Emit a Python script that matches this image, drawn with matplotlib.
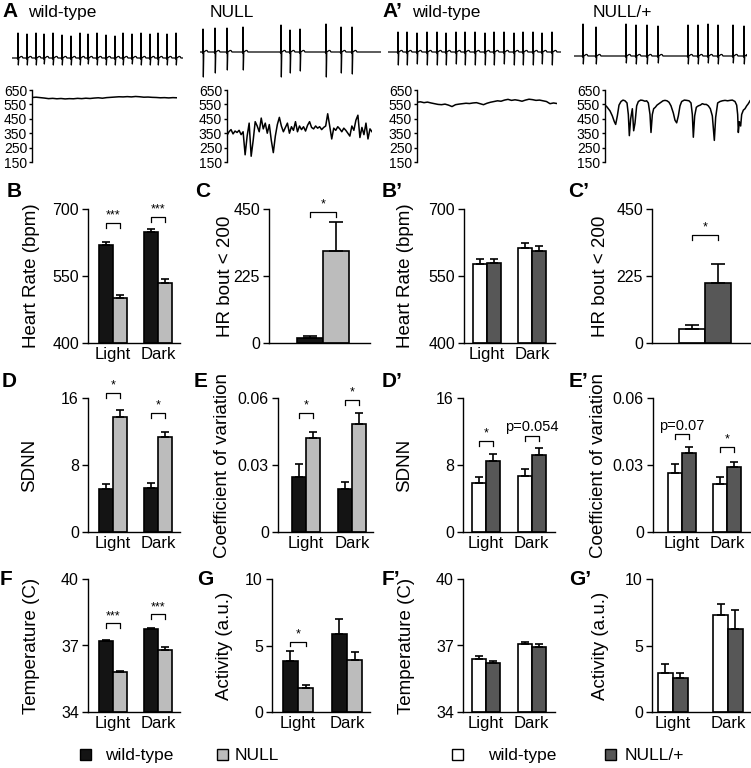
"""Cardiac / activity phenotype figure: ECG strips, HR traces and Light/Dark bar summaries."""
import numpy as np
import matplotlib
matplotlib.use("Agg")
import matplotlib.pyplot as plt
from matplotlib.patches import Rectangle

plt.rcParams["font.family"] = ["Liberation Sans", "DejaVu Sans"]

W, H = 751, 768

WT_COLOR = "#141414"
NULL_COLOR = "#bcbcbc"
HET_COLOR = "#575757"
WT2_COLOR = "white"

PHASES = ["Light", "Dark"]

# ── row A: ECG strips (beat time, R height, S depth) ─────────────────────────
ecg_wt_t = [6, 15, 24, 32, 41, 50, 59, 68, 76, 85, 94, 103, 111, 120, 129, 138, 146, 155, 164]
ecg_wt_up = [25, 24, 25, 24, 25, 23, 22, 25, 24, 25, 23, 22, 25, 24, 25, 24, 25, 24, 25]
ecg_wt_dn = [7, 7, 7, 6, 7, 7, 7, 7, 6, 7, 7, 7, 7, 6, 7, 7, 7, 7, 7]

ecg_null_t = [3, 15, 27, 43, 81, 90, 100, 126, 141, 152]
ecg_null_up = [23, 24, 24, 25, 27, 22, 23, 28, 25, 25]
ecg_null_dn = [25, 21, 18, 18, 25, 21, 19, 25, 21, 22]

ecg_wt2_t = [10, 19, 29, 39, 49, 58, 68, 77, 87, 97, 106, 116, 126, 135, 145, 154, 164]
ecg_wt2_up = [20, 20, 19, 20, 20, 19, 20, 20, 20, 19, 20, 20, 19, 20, 20, 19, 20]
ecg_wt2_dn = [13, 13, 12, 13, 13, 13, 12, 13, 13, 13, 13, 12, 13, 13, 13, 12, 13]

ecg_het_t = [9, 22, 52, 62, 73, 84, 114, 124, 134, 144, 159, 170]
ecg_het_up = [32, 29, 32, 31, 31, 30, 31, 31, 32, 31, 31, 30]
ecg_het_dn = [8, 8, 7, 8, 8, 7, 8, 8, 7, 8, 7, 8]

# ── row A: heart-rate traces (bpm) ───────────────────────────────────────────
hr_wt = [598, 600, 597, 594, 590, 592, 589, 591, 588, 590, 589, 592, 590, 593, 591,
         594, 596, 593, 597, 599, 601, 603, 602, 604, 602, 605, 603, 600, 601, 599,
         598, 596, 597, 595, 597, 596]
hr_null = [335, 360, 375, 345, 365, 355, 370, 340, 360, 200, 330, 420, 190, 300, 430,
           400, 360, 455, 380, 420, 350, 410, 300, 215, 330, 410, 460, 400, 360, 390,
           420, 350, 395, 370, 430, 360, 400, 375, 395, 365, 405, 430, 390, 380, 400,
           385, 395, 375, 390, 400, 485, 400, 310, 385, 370, 395, 380, 360, 385, 370,
           350, 330, 400, 370, 440, 475, 320, 390, 340, 420, 310, 380, 360]
hr_wt2 = [565, 568, 562, 566, 560, 555, 550, 548, 552, 545, 535, 548, 552, 555, 558,
          556, 560, 562, 555, 548, 558, 565, 570, 575, 572, 580, 585, 578, 582, 578,
          572, 580, 586, 583, 578, 580, 575, 570, 555, 560, 556]
hr_het_t = [0, 5, 10, 15, 22, 28, 32, 37, 42, 48, 54, 60, 66, 70, 73, 77, 82, 86, 90, 95,
            100, 107, 113, 120, 125, 130, 135, 138, 142, 146, 151, 156, 162, 168, 174,
            180, 186, 192, 198, 205, 210, 215, 220, 225, 230, 238, 245, 252, 258, 262,
            265, 269, 274, 280, 286, 292, 298, 304, 310, 316, 322, 328, 332, 338, 345,
            352, 360, 368, 375, 382, 390, 395, 398, 400, 403, 407, 410, 415, 420, 425,
            430, 435]
hr_het = [545, 535, 520, 505, 470, 430, 411, 470, 545, 570, 580, 575, 560, 480, 333,
          450, 520, 367, 420, 540, 570, 580, 578, 572, 575, 560, 480, 355, 480, 520,
          530, 545, 555, 565, 575, 578, 575, 565, 540, 490, 440, 422, 470, 540, 570,
          580, 578, 575, 560, 480, 322, 470, 530, 540, 545, 555, 550, 550, 540, 520,
          470, 300, 460, 560, 570, 575, 578, 575, 578, 580, 570, 545, 480, 355, 430,
          400, 480, 510, 520, 540, 555, 575]

# ── bar summaries: (Light, Dark) means and SEM ───────────────────────────────
hr_bpm_wt, hr_bpm_wt_err = [620, 648], [5, 8]
hr_bpm_null, hr_bpm_null_err = [500, 535], [7, 8]
bout_wt, bout_wt_err = [18], [4]
bout_null, bout_null_err = [310], [95]
sdnn_wt, sdnn_wt_err = [5.1, 5.3], [0.6, 0.5]
sdnn_null, sdnn_null_err = [13.7, 11.4], [0.9, 0.6]
cv_wt, cv_wt_err = [0.0246, 0.0193], [0.0058, 0.0031]
cv_null, cv_null_err = [0.0421, 0.0484], [0.0027, 0.0049]
temp_wt, temp_wt_err = [37.2, 37.75], [0.05, 0.03]
temp_null, temp_null_err = [35.8, 36.8], [0.05, 0.12]
act_wt, act_wt_err = [3.83, 5.86], [0.77, 1.14]
act_null, act_null_err = [1.8, 3.9], [0.2, 0.6]

hr_bpm_wt2, hr_bpm_wt2_err = [577, 613], [11, 11]
hr_bpm_het, hr_bpm_het_err = [578, 606], [10, 11]
bout_wt2, bout_wt2_err = [47], [13]
bout_het, bout_het_err = [201], [64]
sdnn_wt2, sdnn_wt2_err = [5.9, 6.7], [0.7, 0.8]
sdnn_het, sdnn_het_err = [8.5, 9.2], [0.8, 0.8]
cv_wt2, cv_wt2_err = [0.0264, 0.0215], [0.0040, 0.0031]
cv_het, cv_het_err = [0.0354, 0.0291], [0.0026, 0.0022]
temp_wt2, temp_wt2_err = [36.4, 37.07], [0.12, 0.10]
temp_het, temp_het_err = [36.2, 36.93], [0.10, 0.12]
act_wt2, act_wt2_err = [2.93, 7.3], [0.67, 0.8]
act_het, act_het_err = [2.55, 6.24], [0.35, 1.46]

# significance brackets: (category index, bracket height, label)
sig_hr = [(0, 669, "***"), (1, 682, "***")]
sig_bout = [(0, 440, "*")]
sig_sdnn = [(0, 16.6, "*"), (1, 14.2, "*")]
sig_cv = [(0, 0.0533, "*"), (1, 0.0591, "*")]
sig_temp = [(0, 38.0, "***"), (1, 38.4, "***")]
sig_act = [(0, 5.3, "*")]
sig_bout2 = [(0, 363, "*")]
sig_sdnn2 = [(0, 10.9, "*"), (1, 11.5, "p=0.054")]
sig_cv2 = [(0, 0.0439, "p=0.07"), (1, 0.038, "*")]


fig = plt.figure(figsize=(W / 100, H / 100), dpi=100)


def px_rect(l, t, r, b):
    return [l / W, 1 - b / H, (r - l) / W, (b - t) / H]


def ecg_strip(l, r, base_y, t, up, dn, length):
    ax = fig.add_axes(px_rect(l, 20, r, 82))
    xs, ys = [0], [0]
    for ti, u, d in zip(t, up, dn):
        xs += [ti - 0.8, ti - 0.4, ti, ti + 0.35, ti + 0.8, ti + 3.0, ti + 4.0, ti + 5.0]
        ys += [0, -1, u, -d, 0, 1.5, 1.5, 0]
    xs.append(length); ys.append(0)
    ax.plot(xs, ys, color="black", lw=0.9)
    ax.set_xlim(0, length)
    ax.set_ylim(-(82 - base_y), base_y - 20)
    ax.axis("off")


def hr_trace(l, r, x, y):
    ax = fig.add_axes(px_rect(l, 90, r, 162))
    ax.plot(x, y, color="black", lw=1.1)
    ax.set_xlim(min(x), max(x))
    ax.set_ylim(150, 650)
    ax.set_yticks([150, 250, 350, 450, 550, 650])
    for s in ("top", "right", "bottom"):
        ax.spines[s].set_visible(False)
    ax.spines["left"].set_linewidth(1.0)
    ax.tick_params(axis="y", length=2.5, width=1.0, pad=1, labelsize=10)
    ax.set_xticks([])
    return ax


def bar_panel(rect, xlim, ylim, yticks, ytlabels, ylabel, lab_dx,
              groups, colors, width, capsize, brackets, cats=PHASES):
    ax = fig.add_axes(px_rect(*rect))
    x = np.arange(len(groups[0][0]))
    for k, ((vals, errs), col) in enumerate(zip(groups, colors)):
        xx = x + (k - 0.5) * width
        vals = np.array(vals, dtype=float)
        ax.bar(xx, vals - ylim[0], width, bottom=ylim[0], color=col,
               edgecolor="black", linewidth=1.2, zorder=2)
        ax.errorbar(xx, vals, yerr=[np.zeros(len(errs)), errs], fmt="none",
                    ecolor="black", elinewidth=1.2, capsize=capsize, capthick=1.2,
                    zorder=3)
    rng = ylim[1] - ylim[0]
    for ci, yb, lab in brackets:
        x1, x2 = ci - width / 2, ci + width / 2
        ax.plot([x1, x1, x2, x2], [yb - 0.037 * rng, yb, yb, yb - 0.037 * rng],
                color="black", lw=0.9, clip_on=False)
        fs = 9 if lab.startswith("*") else 10.5
        ax.text((x1 + x2) / 2, yb + 0.01 * rng, lab, ha="center", va="bottom",
                fontsize=fs)
    ax.set_xlim(*xlim)
    ax.set_ylim(*ylim)
    ax.set_yticks(yticks)
    ax.set_yticklabels(ytlabels)
    if cats:
        ax.set_xticks(x)
        ax.set_xticklabels(cats)
    else:
        ax.set_xticks([])
    for s in ("top", "right"):
        ax.spines[s].set_visible(False)
    for s in ("left", "bottom"):
        ax.spines[s].set_linewidth(1.0)
    ax.tick_params(axis="y", length=4.5, width=1.0, pad=2, labelsize=11.5)
    ax.tick_params(axis="x", length=0, pad=3, labelsize=12)
    ax.set_ylabel(ylabel, fontsize=13.5)
    ax.yaxis.set_label_coords(lab_dx / (rect[2] - rect[0]), 0.5)
    return ax


# ── row A ────────────────────────────────────────────────────────────────────
ecg_strip(12, 183, 58, ecg_wt_t, ecg_wt_up, ecg_wt_dn, 171)
ecg_strip(200, 381, 52, ecg_null_t, ecg_null_up, ecg_null_dn, 181)
ecg_strip(388, 561, 52, ecg_wt2_t, ecg_wt2_up, ecg_wt2_dn, 173)
ecg_strip(574, 747, 56, ecg_het_t, ecg_het_up, ecg_het_dn, 173)

hr_trace(32, 177, np.arange(len(hr_wt)), hr_wt)
hr_trace(227, 372, np.arange(len(hr_null)), hr_null)
hr_trace(417, 557, np.arange(len(hr_wt2)), hr_wt2)
hr_trace(605, 750, hr_het_t, hr_het)

# ── bar panels ───────────────────────────────────────────────────────────────
pair = (WT_COLOR, NULL_COLOR)
pair2 = (WT2_COLOR, HET_COLOR)
col1 = (-0.556, 1.49)

bar_panel((88, 209, 180, 343), col1, (400, 700), [400, 550, 700], ["400", "550", "700"],
          "Heart Rate (bpm)", -48, [(hr_bpm_wt, hr_bpm_wt_err), (hr_bpm_null, hr_bpm_null_err)],
          pair, 0.31, 3, sig_hr)
bar_panel((269, 209, 370, 343), (-1.04, 0.9), (0, 450), [0, 225, 450], ["0", "225", "450"],
          "HR bout < 200", -35, [(bout_wt, bout_wt_err), (bout_null, bout_null_err)],
          pair, 0.5, 5, sig_bout, cats=None)
bar_panel((464, 209, 555, 343), (-0.51, 1.51), (400, 700), [400, 550, 700], ["400", "550", "700"],
          "Heart Rate (bpm)", -50, [(hr_bpm_wt2, hr_bpm_wt2_err), (hr_bpm_het, hr_bpm_het_err)],
          pair2, 0.31, 3, [])
bar_panel((652, 209, 750, 343), (-1.02, 0.87), (0, 450), [0, 225, 450], ["0", "225", "450"],
          "HR bout < 200", -43, [(bout_wt2, bout_wt2_err), (bout_het, bout_het_err)],
          pair2, 0.5, 5, sig_bout2, cats=None)

bar_panel((88, 398, 180, 532), col1, (0, 16), [0, 8, 16], ["0", "8", "16"],
          "SDNN", -50, [(sdnn_wt, sdnn_wt_err), (sdnn_null, sdnn_null_err)],
          pair, 0.31, 3, sig_sdnn)
bar_panel((278, 398, 373, 532), (-0.61, 1.46), (0, 0.06), [0, 0.03, 0.06], ["0", "0.03", "0.06"],
          "Coefficient of variation", -47, [(cv_wt, cv_wt_err), (cv_null, cv_null_err)],
          pair, 0.31, 3, sig_cv)
bar_panel((463, 398, 555, 532), (-0.51, 1.51), (0, 16), [0, 8, 16], ["0", "8", "16"],
          "SDNN", -50, [(sdnn_wt2, sdnn_wt2_err), (sdnn_het, sdnn_het_err)],
          pair2, 0.31, 3, sig_sdnn2)
bar_panel((653, 398, 750, 532), (-0.64, 1.51), (0, 0.06), [0, 0.03, 0.06], ["0", "0.03", "0.06"],
          "Coefficient of variation", -46, [(cv_wt2, cv_wt2_err), (cv_het, cv_het_err)],
          pair2, 0.31, 3, sig_cv2)

bar_panel((88, 579, 180, 712), col1, (34, 40), [34, 37, 40], ["34", "37", "40"],
          "Temperature (C)", -48, [(temp_wt, temp_wt_err), (temp_null, temp_null_err)],
          pair, 0.31, 3, sig_temp)
bar_panel((272, 579, 370, 712), (-0.53, 1.47), (0, 10), [0, 5, 10], ["0", "5", "10"],
          "Activity (a.u.)", -39, [(act_wt, act_wt_err), (act_null, act_null_err)],
          pair, 0.31, 3, sig_act)
bar_panel((463, 579, 555, 712), (-0.51, 1.51), (34, 40), [34, 37, 40], ["34", "37", "40"],
          "Temperature (C)", -48, [(temp_wt2, temp_wt2_err), (temp_het, temp_het_err)],
          pair2, 0.31, 3, [])
bar_panel((652, 579, 750, 712), (-0.38, 1.4), (0, 10), [0, 5, 10], ["0", "5", "10"],
          "Activity (a.u.)", -43, [(act_wt2, act_wt2_err), (act_het, act_het_err)],
          pair2, 0.27, 3, [])


# ── titles, panel letters, legends ───────────────────────────────────────────
def ftext(x, y, s, **kw):
    fig.text(x / W, 1 - y / H, s, va="baseline", **kw)


for x, s in [(28, "wild-type"), (210, "NULL"), (412, "wild-type"), (593, "NULL/+")]:
    ftext(x, 17, s, fontsize=12.5)

letters = [(2, 17, "A"), (382, 17, "A\u2019"),
           (7, 197, "B"), (195, 197, "C"), (382, 197, "B\u2019"), (568, 197, "C\u2019"),
           (2, 387, "D"), (194, 387, "E"), (382, 387, "D\u2019"), (569, 387, "E\u2019"),
           (0, 585, "F"), (197, 585, "G"), (382, 585, "F\u2019"), (569, 585, "G\u2019")]
for x, y, s in letters:
    ftext(x, y, s, fontsize=15, fontweight="bold")


def legend_item(x, text_x, color, label):
    fig.add_artist(Rectangle((x / W, 1 - 760 / H), 11 / W, 11 / H, transform=fig.transFigure,
                             facecolor=color, edgecolor="black", linewidth=1.0))
    ftext(text_x, 760, label, fontsize=12.5)


legend_item(80, 105, WT_COLOR, "wild-type")
legend_item(217, 235, NULL_COLOR, "NULL")
legend_item(452, 488, WT2_COLOR, "wild-type")
legend_item(605, 625, HET_COLOR, "NULL/+")

fig.savefig("out.png", dpi=100)
